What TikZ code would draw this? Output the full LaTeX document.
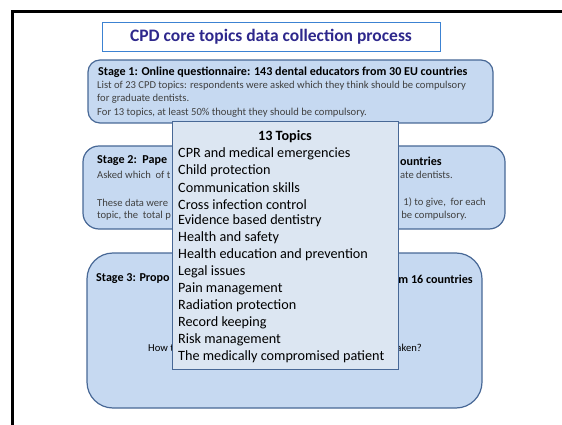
\documentclass[tikz,border=0pt]{standalone}
\usepackage{fontspec}
\setmainfont{Carlito}
\definecolor{stagefill}{RGB}{198,217,241}
\definecolor{stageline}{RGB}{72,104,150}
\definecolor{listfill}{RGB}{220,230,242}
\definecolor{titleline}{RGB}{60,130,210}
\definecolor{titletext}{RGB}{46,40,140}
\definecolor{bodytext}{RGB}{64,64,64}
\begin{document}
\begin{tikzpicture}[x=1pt,y=-1pt,
	stagebox/.style={draw=stageline, fill=stagefill, line width=1.2pt},
	stagehead/.style={inner sep=0pt, anchor=west, font=\fontsize{12.1}{14}\selectfont\bfseries},
	stagebody/.style={inner sep=0pt, anchor=west, text=bodytext, font=\fontsize{10.6}{12}\selectfont},
	topictext/.style={inner sep=0pt, anchor=west, font=\fontsize{14.2}{16}\selectfont}]
	\useasboundingbox (0,0) rectangle (562,425);
	\draw [line width=3pt] (12,425) -- (12,12) -- (562,12);%Rahmen links und oben

	% Titel
	\node[draw=titleline, line width=0.8pt, minimum width=338pt, minimum height=29pt, inner sep=0pt,
		text=titletext, font=\fontsize{17.5}{19}\selectfont\bfseries] (title) at (271,36.5) {CPD core topics data collection process};

	% Stage 1
	\draw[stagebox, rounded corners=12pt] (88,60) rectangle (493,123);
	\node[stagehead] (s1head) at (98,72.5) {Stage 1: Online questionnaire: 143 dental educators from 30 EU countries};
	\node[stagebody] (s1a) at (97,86) {List of 23 CPD topics: respondents were asked which they think should be compulsory};
	\node[stagebody] (s1b) at (97,99) {for graduate dentists.};
	\node[stagebody] (s1c) at (97,112.5) {For 13 topics, at least 50\% thought they should be compulsory.};

	% Stage 2
	\draw[stagebox, rounded corners=16pt] (83,146) rectangle (505,229);
	\node[stagehead] (s2head) at (97,161) {Stage 2:\ \ Pape};
	\node[stagehead, anchor=east] (s2headr) at (442,161) {ountries};
	\node[stagebody] (s2a) at (97,175) {Asked which\ \ of t};
	\node[stagebody, anchor=east] (s2ar) at (453,175) {ate dentists.};
	\node[stagebody] (s2b) at (97,202.5) {These data were};
	\node[stagebody, anchor=east] (s2br) at (486,202.5) {1) to give,\ \ for each};
	\node[stagebody] (s2c) at (97,216) {topic, the\ \ total p};
	\node[stagebody, anchor=east] (s2cr) at (467,216) {be compulsory.};

	% Stage 3
	\draw[stagebox, rounded corners=26pt] (87,253) rectangle (482,408);
	\node[stagehead] (s3head) at (96,279) {Stage 3: Propo};
	\node[stagehead, anchor=east] (s3headr) at (473,279) {m 16 countries};
	\node[stagebody, text=black] (s3a) at (148,348) {How t};
	\node[stagebody, text=black, anchor=east] (s3ar) at (422,348) {aken?};

	% 13 Topics
	\draw[draw=stageline, fill=listfill, line width=1pt] (172,122) rectangle (398,369);
	\node[topictext, anchor=center, font=\fontsize{14.2}{16}\selectfont\bfseries] (topichead) at (285,137) {13 Topics};
	\foreach \topic [count=\i] in {CPR and medical emergencies, Child protection, Communication skills,
		Cross infection control, Evidence based dentistry, Health and safety, Health education and prevention,
		Legal issues, Pain management, Radiation protection, Record keeping, Risk management,
		The medically compromised patient}
		\node[topictext] (topic\i) at (178,136.4+16.95*\i) {\topic};
\end{tikzpicture}
\end{document}
